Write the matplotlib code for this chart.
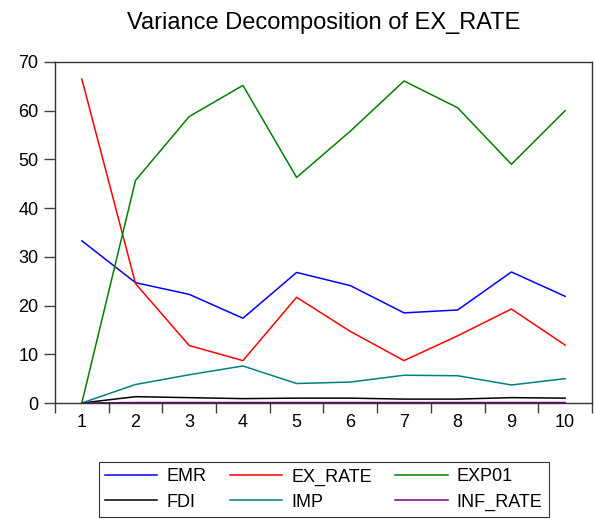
import matplotlib
matplotlib.use('Agg')
import matplotlib.pyplot as plt

plt.rcParams['font.family'] = ['Liberation Sans', 'DejaVu Sans']

periods = list(range(1, 11))
emr = [33.3, 24.7, 22.3, 17.4, 26.8, 24.1, 18.5, 19.1, 26.9, 21.9]
ex_rate = [66.5, 24.5, 11.8, 8.7, 21.7, 14.7, 8.7, 13.8, 19.3, 11.9]
exp01 = [0.0, 45.7, 58.8, 65.2, 46.3, 55.8, 66.1, 60.6, 49.0, 60.0]
fdi = [0.0, 1.3, 1.1, 0.9, 1.0, 1.0, 0.8, 0.8, 1.1, 1.0]
imp = [0.0, 3.8, 5.8, 7.6, 4.0, 4.3, 5.7, 5.6, 3.7, 5.0]
inf_rate = [0.0, 0.1, 0.1, 0.1, 0.1, 0.1, 0.1, 0.1, 0.1, 0.1]

series = [
    ('EMR', emr, '#0000ff'),
    ('EX_RATE', ex_rate, '#ff0000'),
    ('EXP01', exp01, '#008000'),
    ('FDI', fdi, '#000000'),
    ('IMP', imp, '#008080'),
    ('INF_RATE', inf_rate, '#800080'),
]

fig = plt.figure(figsize=(5.95, 5.24), dpi=100)
ax = fig.add_axes([0.0924, 0.2309, 0.9025, 0.6508])

lines = []
for name, vals, color in series:
    ln, = ax.plot(periods, vals, color=color, lw=1.1, label=name)
    lines.append(ln)

ax.set_xlim(0.5, 10.5)
ax.set_ylim(0, 70)
ax.set_yticks(range(0, 71, 10))

# tick marks between periods, labels on the periods
ax.set_xticks([p + 0.5 for p in range(0, 11)])
ax.set_xticklabels([])
ax.set_xticks(periods, minor=True)
ax.set_xticklabels([str(p) for p in periods], minor=True)
ax.tick_params(axis='x', which='major', direction='out', length=7, width=1, color='#404040')
ax.tick_params(axis='x', which='minor', length=0, pad=8, labelsize=13)
ax.tick_params(axis='y', direction='out', length=8, width=1, pad=4, labelsize=13, color='#404040')

for s in ax.spines.values():
    s.set_linewidth(1.0)
    s.set_color('#333333')

ax.set_title('Variance Decomposition of EX_RATE', fontsize=17, pad=24)

# legend filled row by row: EMR, EX_RATE, EXP01 / FDI, IMP, INF_RATE
order = [0, 3, 1, 4, 2, 5]
leg = fig.legend([lines[i] for i in order], [series[i][0] for i in order],
                 loc='lower center', bbox_to_anchor=(0.544, -0.004), ncol=3,
                 fontsize=13, frameon=True, fancybox=False, edgecolor='black',
                 handlelength=2.9, handletextpad=0.5, columnspacing=1.3,
                 borderpad=0.35, labelspacing=0.45)
leg.get_frame().set_linewidth(0.8)

fig.savefig('out.png', dpi=100)
